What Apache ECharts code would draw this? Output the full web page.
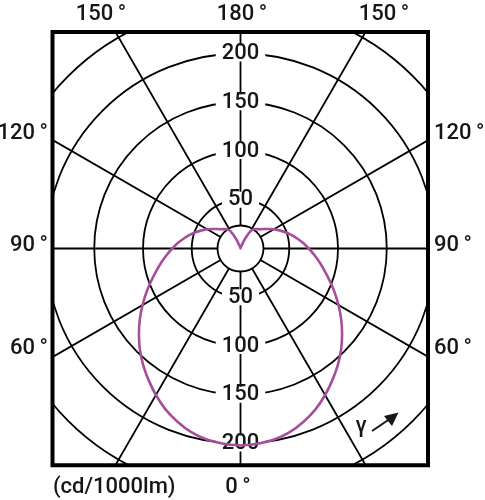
<!DOCTYPE html>
<html><head><meta charset="utf-8">
<script src="https://cdn.jsdelivr.net/npm/echarts/dist/echarts.min.js"></script>
<style>html,body{margin:0;padding:0;background:#fff}#c{width:485px;height:500px}</style>
</head><body><div id="c"></div>
<script>
// gamma angles (deg, 0 = downward) and luminous intensity (cd/1000lm)
const GAMMA = [0,5,10,15,20,25,30,35,40,45,50,55,60,65,70,75,80,85,90,95,100,105,110,115,120,125,130,135,140,145,150,155,160,165,170,175,180];
const INTENSITY = [202,201,199,195,189,182,173.5,164.5,155.5,146,136,126,116,106.5,97.5,89.5,82.5,76,70,64.5,59,54,49,44,39.5,35,31,28,26,24,21,11,3,1,0,0,0];
const RADIUS_TICKS = [50,100,150,200];
const ANGLE_LABELS_LEFT = ['120', '90', '60'];
const ANGLE_LABELS_TOP = ['150', '180', '150'];
const BOTTOM_LABEL = '0';
const UNIT_LABEL = '(cd/1000lm)';

// layout
const CX = 240.5, CY = 248.5, K = 0.975;
const FAMILY = 'Roboto, "Open Sans", sans-serif';
const FONT = '500 22px ' + FAMILY;
const DEG = '\u2009°';
const INK = '#161616';

const data = [];
GAMMA.forEach((g, i) => data.push([INTENSITY[i], g]));
for (let i = GAMMA.length - 2; i >= 0; i--) data.push([INTENSITY[i], 360 - GAMMA[i]]);

const chart = echarts.init(document.getElementById('c'), null, {renderer: 'canvas'});

function txt(text, x, y, align, vAlign) {
  return {type: 'text', z: 60, silent: true,
    style: {text: text, x: x, y: y, font: FONT, fill: INK, textAlign: align, textVerticalAlign: vAlign || 'middle'}};
}

const radLabel = {
  show: true, margin: 0, align: 'center', verticalAlign: 'middle',
  showMinLabel: false,
  fontFamily: FAMILY, fontSize: 22, fontWeight: 500, color: INK, lineHeight: 16,
  backgroundColor: '#fff', padding: [0, 6],
  formatter: v => RADIUS_TICKS.indexOf(v) >= 0 ? String(v) : ''
};

chart.setOption({
  animation: false,
  polar: [
    {center: [CX, CY], radius: 300 * K},
    {center: [CX, CY], radius: 200 * K},
    {center: [CX, CY], radius: 200 * K}
  ],
  angleAxis: [
    {polarIndex: 0, type: 'value', min: 0, max: 360, interval: 30, startAngle: 270, clockwise: true,
     axisLine: {show: false}, axisTick: {show: false}, axisLabel: {show: false},
     splitLine: {show: true, lineStyle: {color: '#000', width: 1.8}}},
    {polarIndex: 1, type: 'value', min: 0, max: 360, startAngle: 270, show: false},
    {polarIndex: 2, type: 'value', min: 0, max: 360, startAngle: 90, show: false}
  ],
  radiusAxis: [
    {polarIndex: 0, type: 'value', min: 0, max: 300, interval: 50,
     axisLine: {show: false}, axisTick: {show: false}, axisLabel: {show: false},
     splitLine: {show: true, lineStyle: {color: '#000', width: 1.8}}},
    {polarIndex: 1, type: 'value', min: 0, max: 200, interval: 50, z: 6,
     axisLine: {show: false}, axisTick: {show: false}, splitLine: {show: false}, axisLabel: radLabel},
    {polarIndex: 2, type: 'value', min: 0, max: 200, interval: 50, z: 6,
     axisLine: {show: false}, axisTick: {show: false}, splitLine: {show: false}, axisLabel: radLabel}
  ],
  series: [{
    type: 'line', coordinateSystem: 'polar', polarIndex: 0, data: data,
    symbol: 'none', smooth: 0.35, z: 10, silent: true,
    lineStyle: {color: '#a64e9c', width: 2.6}
  }],
  graphic: [
    {type: 'circle', z: 3, silent: true, shape: {cx: CX, cy: CY, r: 23},
     style: {fill: '#fff', stroke: '#000', lineWidth: 1.8}},
    // white masks outside the frame
    {type: 'rect', z: 50, silent: true, shape: {x: 0, y: 0, width: 485, height: 31}, style: {fill: '#fff'}},
    {type: 'rect', z: 50, silent: true, shape: {x: 0, y: 466, width: 485, height: 34}, style: {fill: '#fff'}},
    {type: 'rect', z: 50, silent: true, shape: {x: 0, y: 0, width: 51.5, height: 500}, style: {fill: '#fff'}},
    {type: 'rect', z: 50, silent: true, shape: {x: 429, y: 0, width: 56, height: 500}, style: {fill: '#fff'}},
    // frame
    {type: 'rect', z: 55, silent: true, shape: {x: 52.5, y: 32, width: 375.5, height: 433.3},
     style: {fill: 'transparent', stroke: '#000', lineWidth: 4}},
    // angle labels
    txt(ANGLE_LABELS_TOP[0] + DEG, 101, 14, 'center'),
    txt(ANGLE_LABELS_TOP[1] + DEG, 242, 14, 'center'),
    txt(ANGLE_LABELS_TOP[2] + DEG, 384, 14, 'center'),
    txt(ANGLE_LABELS_LEFT[0] + DEG, 48, 133, 'right'),
    txt(ANGLE_LABELS_LEFT[1] + DEG, 48, 245, 'right'),
    txt(ANGLE_LABELS_LEFT[2] + DEG, 48, 348, 'right'),
    txt(ANGLE_LABELS_LEFT[0] + DEG, 434, 133, 'left'),
    txt(ANGLE_LABELS_LEFT[1] + DEG, 434, 245, 'left'),
    txt(ANGLE_LABELS_LEFT[2] + DEG, 434, 348, 'left'),
    txt(BOTTOM_LABEL + DEG, 238, 487, 'center'),
    txt(UNIT_LABEL, 53, 487, 'left'),
    txt('γ', 361, 426, 'center'),
    // gamma arrow
    {type: 'line', z: 60, silent: true, shape: {x1: 372, y1: 431, x2: 389, y2: 419.5},
     style: {stroke: INK, lineWidth: 2}},
    {type: 'polygon', z: 60, silent: true, shape: {points: [[398.5, 412.5], [384, 416], [392, 426]]},
     style: {fill: INK}}
  ]
});
</script></body></html>
